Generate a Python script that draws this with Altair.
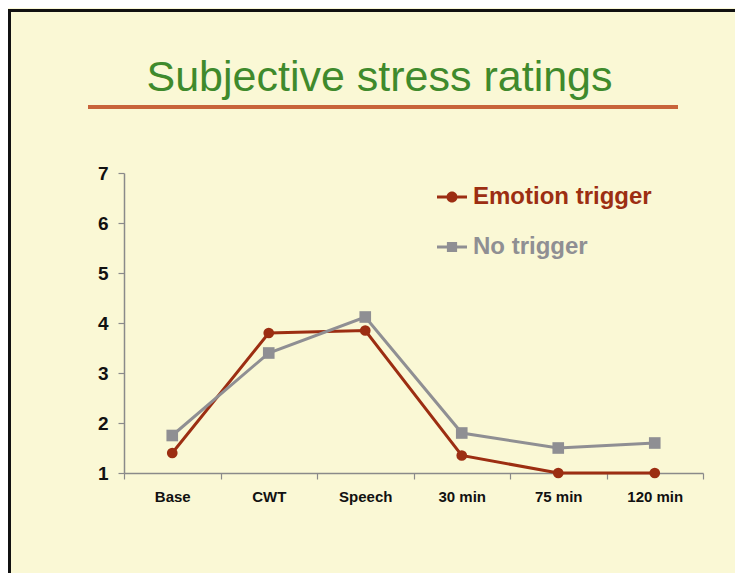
import altair as alt
import pandas as pd

categories = ["Base", "CWT", "Speech", "30 min", "75 min", "120 min"]
series_names = ["Emotion trigger", "No trigger"]
emotion_trigger = [1.4, 3.8, 3.85, 1.35, 1.0, 1.0]
no_trigger = [1.75, 3.4, 4.12, 1.8, 1.5, 1.6]
y_ticks = [1, 2, 3, 4, 5, 6, 7]

RED = "#9c2e12"
GRAY = "#8f8f93"
BG = "#faf8d5"
FONT = "Liberation Sans"

rows = []
for c, v in zip(categories, emotion_trigger):
    rows.append({"cat": c, "value": v, "series": series_names[0]})
for c, v in zip(categories, no_trigger):
    rows.append({"cat": c, "value": v, "series": series_names[1]})
df = pd.DataFrame(rows)

x_enc = alt.X(
    "cat:N",
    sort=categories,
    bandPosition=0.5,
    scale=alt.Scale(type="band", domain=categories, paddingInner=0, paddingOuter=0),
    axis=alt.Axis(
        title=None, labelAngle=0, tickBand="extent", grid=False,
        labelFont=FONT, labelFontSize=15, labelFontWeight="bold", labelColor="#111111",
        tickSize=6, tickColor="#8a8a8a", domainColor="#8a8a8a", domainWidth=1.5,
        tickWidth=1.2, labelPadding=10,
    ),
)
y_enc = alt.Y(
    "value:Q",
    scale=alt.Scale(domain=[1, 7], nice=False, zero=False),
    axis=alt.Axis(
        title=None, values=y_ticks, grid=False,
        labelFont=FONT, labelFontSize=19, labelFontWeight="bold", labelColor="#111111",
        tickSize=6, tickColor="#8a8a8a", domainColor="#8a8a8a", domainWidth=1.5,
        tickWidth=1.2, labelPadding=10,
    ),
)

base = alt.Chart(df)

line_e = base.transform_filter(alt.datum.series == series_names[0]).mark_line(
    color=RED, strokeWidth=3
).encode(x=x_enc, y=y_enc)
line_n = base.transform_filter(alt.datum.series == series_names[1]).mark_line(
    color=GRAY, strokeWidth=3
).encode(x=x_enc, y=y_enc)
pts_e = base.transform_filter(alt.datum.series == series_names[0]).mark_point(
    shape="circle", filled=True, opacity=1, size=115, color=RED
).encode(x=x_enc, y=y_enc)
pts_n = base.transform_filter(alt.datum.series == series_names[1]).mark_point(
    shape="square", filled=True, opacity=1, size=135, color=GRAY
).encode(x=x_enc, y=y_enc)

circle_path = ("M-1,-0.1H-0.36V0.1H-1Z M0.36,-0.1H1V0.1H0.36Z "
               "M0.37,0A0.37,0.37 0 1,1 -0.37,0A0.37,0.37 0 1,1 0.37,0Z")
square_path = ("M-1,-0.1H-0.34V0.1H-1Z M0.34,-0.1H1V0.1H0.34Z "
               "M-0.34,-0.34H0.34V0.34H-0.34Z")

leg = alt.Legend(
    title=None, orient="none", legendX=313, legendY=9, padding=0,
    labelFont=FONT, labelFontSize=24, labelFontWeight="bold", labelLimit=400,
    labelColor={"expr": f"datum.label == '{series_names[0]}' ? '{RED}' : '{GRAY}'"},
    labelOffset=6, rowPadding=23, symbolSize=900, symbolStrokeWidth=0,
    symbolOpacity=1,
)
legend_layer = base.transform_filter("false").mark_point(
    filled=True, opacity=1, size=900
).encode(
    x=x_enc, y=y_enc,
    color=alt.Color("series:N", scale=alt.Scale(domain=series_names, range=[RED, GRAY]), legend=leg),
    shape=alt.Shape("series:N", scale=alt.Scale(domain=series_names, range=[circle_path, square_path]), legend=leg),
)

underline = alt.Chart(df).mark_rule(color="#c8643a", strokeWidth=3).encode(
    x=alt.value(-36), x2=alt.value(554), y=alt.value(-66)
)
frame_left = alt.Chart(df).mark_rule(color="#111111", strokeWidth=3).encode(
    x=alt.value(-114.5), y=alt.value(-164), y2=alt.value(410)
)
frame_top = alt.Chart(df).mark_rule(color="#111111", strokeWidth=3).encode(
    x=alt.value(-116), x2=alt.value(620), y=alt.value(-162.5)
)

chart = alt.layer(
    frame_left, frame_top, underline, line_e, line_n, pts_e, pts_n, legend_layer
).properties(
    width=579, height=300,
    autosize=alt.AutoSizeParams(type="none"),
    padding={"left": 116, "top": 165, "right": 32, "bottom": 100},
    background=BG,
    title=alt.TitleParams(
        "Subjective stress ratings", font=FONT, fontSize=43, fontWeight="normal",
        color="#3f8a2c", anchor="middle", frame="group", baseline="alphabetic",
        offset=0, dy=126.5, dx=-34,
    ),
).configure_view(stroke=None)

chart.save("out.html", embed_options={"renderer": "svg", "actions": False})
